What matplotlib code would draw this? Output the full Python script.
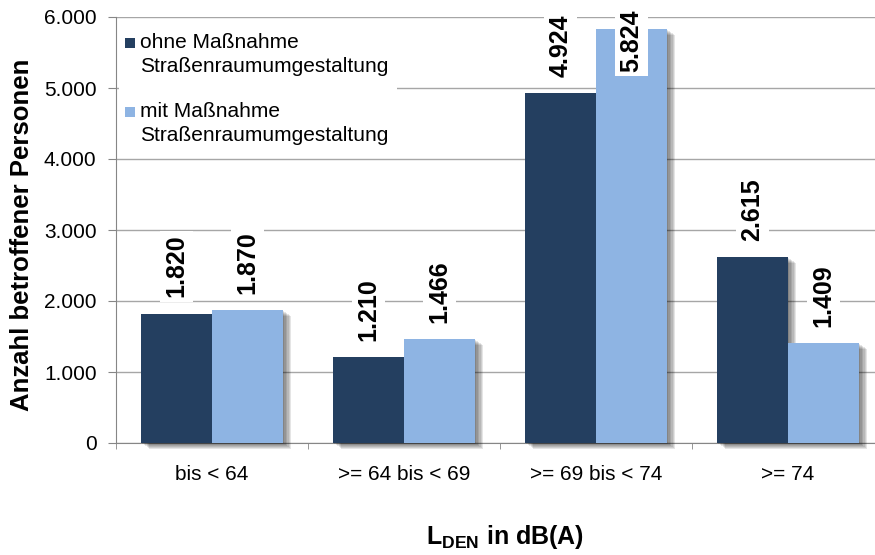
import numpy as np
import matplotlib.pyplot as plt
import matplotlib.patheffects as pe
from matplotlib.patches import Rectangle
from matplotlib.ticker import FuncFormatter

plt.rcParams['font.family'] = ['Liberation Sans', 'DejaVu Sans']
plt.rcParams['mathtext.fontset'] = 'custom'
plt.rcParams['mathtext.rm'] = 'Liberation Sans:bold'
plt.rcParams['mathtext.it'] = 'Liberation Sans:bold'
plt.rcParams['mathtext.bf'] = 'Liberation Sans:bold'

categories = ['bis < 64', '>= 64 bis < 69', '>= 69 bis < 74', '>= 74']
ohne = [1820, 1210, 4924, 2615]
mit = [1870, 1466, 5824, 1409]
series_names = [['ohne Maßnahme', 'Straßenraumumgestaltung'],
                ['mit Maßnahme', 'Straßenraumumgestaltung']]
colors = ['#243F60', '#8EB4E3']

W, H = 875, 555
fig = plt.figure(figsize=(W / 100, H / 100), dpi=100)
ax = fig.add_axes([116 / W, 112 / H, 768 / W, 426 / H])

def fmt(v):
    return f'{int(v):,}'.replace(',', '.')

x = np.arange(len(categories))
w = 0.37
# soft drop shadow made from a few stacked offset copies
shadow = [pe.SimplePatchShadow(offset=(o, -o * 0.7), shadow_rgbFace='#000000', alpha=0.1)
          for o in (1.0, 2.0, 3.0, 4.0, 5.0, 6.0)] + [pe.Normal()]

for i, vals in enumerate([ohne, mit]):
    ax.bar(x + (i - 0.5) * w, vals, w, color=colors[i], zorder=3,
           path_effects=shadow, clip_on=False)

for i, vals in enumerate([ohne, mit]):
    for xi, v in zip(x, vals):
        y = min(v + 230, 5230)
        ax.text(xi + (i - 0.5) * w, y, fmt(v), rotation=90,
                ha='center', va='bottom', fontsize=18, fontweight='bold', zorder=5,
                bbox=dict(facecolor='white', edgecolor='none', pad=3))

ax.set_xlim(-0.5, 3.5)
ax.set_ylim(0, 6000)
ax.set_yticks(range(0, 6001, 1000))
ax.yaxis.set_major_formatter(FuncFormatter(lambda v, p: fmt(v)))
ax.grid(axis='y', color='#A6A6A6', linewidth=1, zorder=0)
ax.set_axisbelow(True)

ax.set_xticks(x)
ax.set_xticklabels(categories, fontsize=15)
ax.set_xticks(np.arange(-0.5, 4, 1), minor=True)
ax.tick_params(axis='x', which='major', length=0, pad=16)
ax.tick_params(axis='x', which='minor', length=4, color='#868686', direction='out')
ax.tick_params(axis='y', length=6, color='#868686', labelsize=15, pad=8)

for s in ['top', 'right']:
    ax.spines[s].set_visible(False)
for s in ['left', 'bottom']:
    ax.spines[s].set_color('#868686')

fig.text(22 / W, 1 - 235 / H, 'Anzahl betroffener Personen', rotation=90,
         fontsize=18.5, fontweight='bold', ha='center', va='center')
fig.text(505 / W, 1 - 537 / H, r'L$_{\mathrm{DEN}}$ in dB(A)', fontsize=18,
         fontweight='bold', ha='center', va='center')

# legend drawn by hand: square aligned with first line of each label
fig.patches.append(Rectangle((119 / W, 1 - 157 / H), 278 / W, 137 / H,
                             transform=fig.transFigure, facecolor='white',
                             edgecolor='none', zorder=4))
for i, (lines, ypx) in enumerate(zip(series_names, (43, 112))):
    fig.patches.append(Rectangle((125 / W, 1 - (ypx + 5) / H), 10 / W, 10 / H,
                                 transform=fig.transFigure, facecolor=colors[i],
                                 edgecolor='none', zorder=5))
    for k, line in enumerate(lines):
        fig.text(140 / W, 1 - (ypx + 24 * k) / H, line, fontsize=15,
                 ha='left', va='center', zorder=6)

fig.savefig('out.png', dpi=100)
